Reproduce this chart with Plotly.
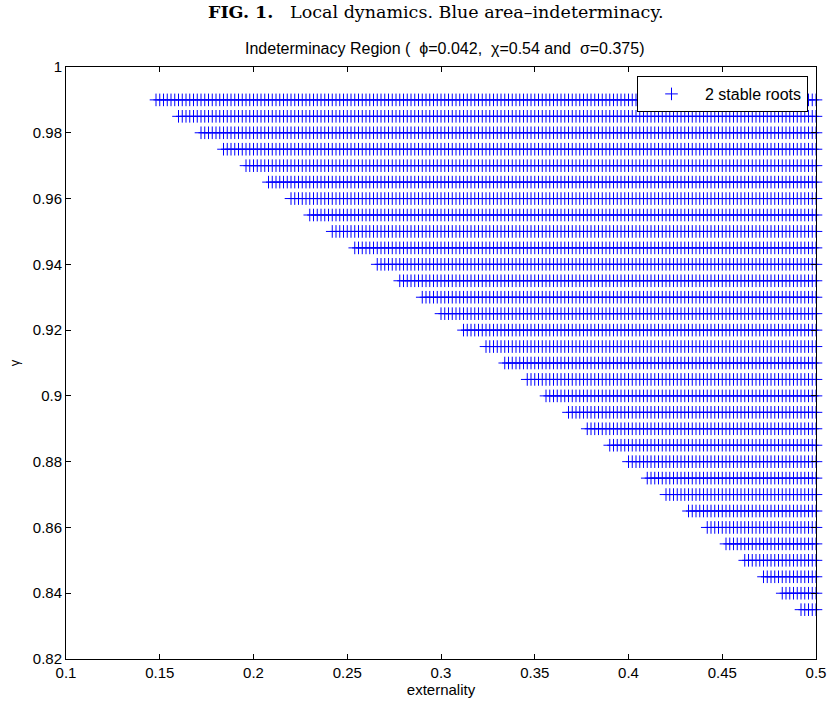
import plotly.graph_objects as go

# ---- data ----
gamma_rows = [0.99, 0.985, 0.98, 0.975, 0.97, 0.965, 0.96, 0.955, 0.95, 0.945,
              0.94, 0.935, 0.93, 0.925, 0.92, 0.915, 0.91, 0.905, 0.90, 0.895,
              0.89, 0.885, 0.88, 0.875, 0.87, 0.865, 0.86, 0.855, 0.85, 0.845,
              0.84, 0.835]
externality_start = [0.148, 0.160, 0.172, 0.184, 0.196, 0.208, 0.220, 0.230, 0.242, 0.254,
                     0.266, 0.278, 0.290, 0.300, 0.312, 0.324, 0.334, 0.346, 0.356, 0.368,
                     0.378, 0.390, 0.400, 0.410, 0.420, 0.432, 0.442, 0.452, 0.462, 0.472,
                     0.482, 0.492]
externality_end = 0.5
externality_step = 0.002

x_tickvals = [0.1, 0.15, 0.2, 0.25, 0.3, 0.35, 0.4, 0.45, 0.5]
x_ticktext = ["0.1", "0.15", "0.2", "0.25", "0.3", "0.35", "0.4", "0.45", "0.5"]
y_tickvals = [0.82, 0.84, 0.86, 0.88, 0.9, 0.92, 0.94, 0.96, 0.98, 1.0]
y_ticktext = ["0.82", "0.84", "0.86", "0.88", "0.9", "0.92", "0.94", "0.96", "0.98", "1"]

series_name = "2 stable roots"

# ---- build the grid of points (each row from its start to the end, at the scan step) ----
xs, ys = [], []
for g, x0 in zip(gamma_rows, externality_start):
    n = int(round((externality_end - x0) / externality_step)) + 1
    for k in range(n):
        xs.append(round(x0 + k * externality_step, 4))
        ys.append(g)

W, H = 827, 707
L, R, T, B = 66, 11, 67, 48
PW, PH = W - L - R, H - T - B


def px_x(p):
    return (p - L) / PW


def px_y(p):
    return (H - B - p) / PH


fig = go.Figure()
fig.add_trace(go.Scatter(
    x=xs, y=ys, mode="markers", name=series_name,
    marker=dict(symbol="cross-thin-open", size=9, color="#0000ff",
                line=dict(color="#0000ff", width=1)),
    cliponaxis=False, showlegend=True, hoverinfo="skip",
))

axis_common = dict(showline=True, linecolor="black", linewidth=1, mirror="ticks",
                   ticks="inside", ticklen=5, tickcolor="black", tickwidth=1,
                   showgrid=False, zeroline=False,
                   tickfont=dict(family="Liberation Sans, Arial", size=15, color="black"))

fig.update_xaxes(range=[0.1, 0.5], tickvals=x_tickvals, ticktext=x_ticktext,
                 title=dict(text="externality", standoff=4,
                            font=dict(family="Liberation Sans, Arial", size=15, color="black")),
                 **axis_common)
fig.update_yaxes(range=[0.82, 1.0], tickvals=y_tickvals, ticktext=y_ticktext,
                 title=dict(text="γ", standoff=10,
                            font=dict(family="Liberation Sans, Arial", size=13, color="black")),
                 **axis_common)

fig.update_layout(
    width=W, height=H,
    margin=dict(l=L, r=R, t=T, b=B, autoexpand=False),
    paper_bgcolor="white", plot_bgcolor="white",
    showlegend=True,
    legend=dict(x=px_x(808), y=px_y(76), xanchor="right", yanchor="top",
                bgcolor="white", bordercolor="black", borderwidth=1,
                itemwidth=57,
                font=dict(family="Liberation Sans, Arial", size=16, color="black")),
    annotations=[
        dict(text="<b>FIG. 1.</b>\u00a0\u00a0 Local dynamics. Blue area–indeterminacy.",
             xref="paper", yref="paper", x=px_x(436), y=px_y(12),
             xanchor="center", yanchor="middle", showarrow=False,
             font=dict(family="DejaVu Serif, Liberation Serif", size=17.5, color="black")),
        dict(text="Indeterminacy Region (\u00a0 ϕ=0.042,\u00a0 χ=0.54 and\u00a0 σ=0.375)",
             xref="paper", yref="paper", x=px_x(444), y=px_y(49),
             xanchor="center", yanchor="middle", showarrow=False,
             font=dict(family="Liberation Sans, Arial", size=16, color="black")),
    ],
)

fig.write_html("out.html",
               config={"displayModeBar": False},
               post_script="document.body.style.margin='0';document.body.style.padding='0';")
